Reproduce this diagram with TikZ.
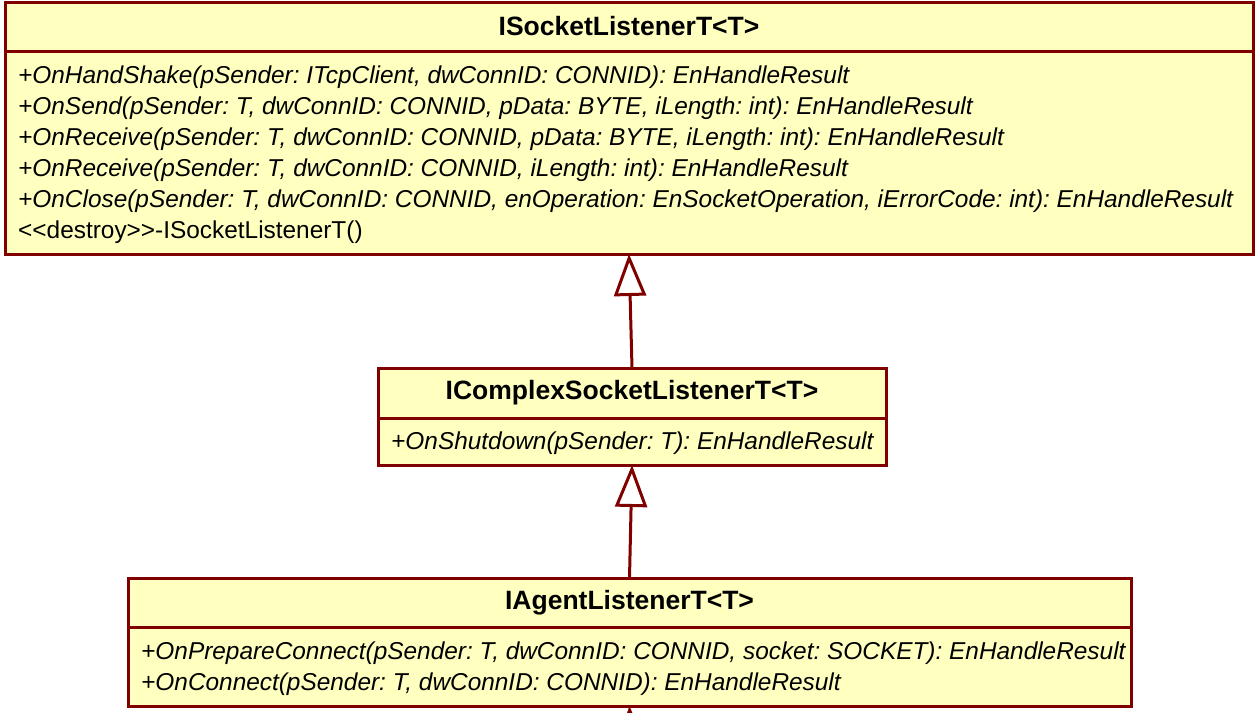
\documentclass[tikz,border=0pt]{standalone}
\usepackage{fontspec}
\setmainfont{Liberation Sans}
\usetikzlibrary{arrows.meta}
\definecolor{umlline}{RGB}{128,0,0}
\definecolor{umlfill}{RGB}{255,255,192}
\frenchspacing

\begin{document}
\begin{tikzpicture}[x=1pt,y=-1pt]

\tikzstyle{classname}=[rectangle,draw=umlline,fill=umlfill,line width=3pt,inner sep=0pt,outer sep=0pt,font=\fontsize{26.5}{31}\selectfont\bfseries]
\tikzstyle{classops}=[rectangle,draw=umlline,fill=umlfill,line width=3pt,inner sep=0pt,outer sep=0pt]
\tikzstyle{opstext}=[anchor=west,inner sep=0pt,align=left,yshift=-2pt,font=\fontsize{24.4}{31}\selectfont\itshape]
\tikzstyle{inherit}=[draw=umlline,line width=3pt,-{Triangle[length=42pt,width=32pt,fill=white]}]

\useasboundingbox (0,0) rectangle (1257,712);
\clip (0,0) rectangle (1257,712);

% base listener
\draw (629,26.5) node [classname,minimum width=1248pt,minimum height=49pt] (sock) {ISocketListenerT<T>};
\node [classops,anchor=north,minimum width=1248pt,minimum height=203pt] (sockops) at (sock.south) {};
\node [opstext] (sockopstext) at ([xshift=13pt]sockops.west) {%
+OnHandShake(pSender: ITcpClient, dwConnID: CONNID): EnHandleResult\\
+OnSend(pSender: T, dwConnID: CONNID, pData: BYTE, iLength: int): EnHandleResult\\
+OnReceive(pSender: T, dwConnID: CONNID, pData: BYTE, iLength: int): EnHandleResult\\
+OnReceive(pSender: T, dwConnID: CONNID, iLength: int): EnHandleResult\\
+OnClose(pSender: T, dwConnID: CONNID, enOperation: EnSocketOperation, iErrorCode: int): EnHandleResult\\
\upshape <{}<destroy>{}>-ISocketListenerT()};

% complex listener
\draw (632,393) node [classname,minimum width=508pt,minimum height=50pt] (cplx) {IComplexSocketListenerT<T>};
\node [classops,anchor=north,minimum width=508pt,minimum height=47pt] (cplxops) at (cplx.south) {};
\node [opstext] (cplxopstext) at ([xshift=13pt]cplxops.west) {%
+OnShutdown(pSender: T): EnHandleResult};

% agent listener
\draw (629.5,602.5) node [classname,minimum width=1003pt,minimum height=49pt] (agent) {IAgentListenerT<T>};
\node [classops,anchor=north,minimum width=1003pt,minimum height=79pt] (agentops) at (agent.south) {};
\node [opstext] (agentopstext) at ([xshift=13pt]agentops.west) {%
+OnPrepareConnect(pSender: T, dwConnID: CONNID, socket: SOCKET): EnHandleResult\\
+OnConnect(pSender: T, dwConnID: CONNID): EnHandleResult};

\coordinate (below) at (631,760);

\draw[inherit] (cplx.north) -- (sockops.south);
\draw[inherit] (agent.north) -- (cplxops.south);
\draw[inherit] (below) -- (agentops.south);

\end{tikzpicture}
\end{document}
